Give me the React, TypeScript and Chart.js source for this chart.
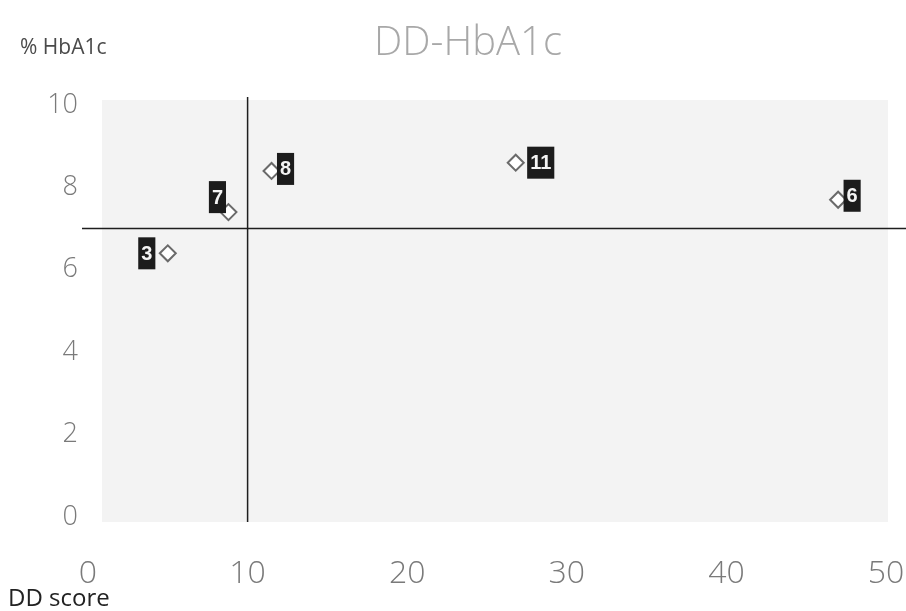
import React, { useEffect, useRef } from "react";
import { Chart, registerables } from "chart.js";
Chart.register(...registerables);

const patientIds = ["3", "7", "8", "11", "6"];
const ddScores = [5.0, 8.8, 11.5, 26.8, 47.0];
const hba1c = [6.4, 7.4, 8.4, 8.6, 7.7];
const xTicks = [0, 10, 20, 30, 40, 50];
const yTicks = [0, 2, 4, 6, 8, 10];
const xCross = 10;
const yCross = 7;
const chartTitle = "DD-HbA1c";
const yAxisTitle = "% HbA1c";
const xAxisTitle = "DD score";

// label box offsets from each marker (dx, dy) in px
const LABEL_OFFSETS: [number, number][] = [
  [-21, 0],
  [-11, -15],
  [14, -2],
  [25, 0],
  [14, -4],
];

const quadrantPlugin = {
  id: "quadrant",
  beforeDatasetsDraw(chart: any) {
    const { ctx, chartArea: a, scales } = chart;
    const x = scales.x;
    const y = scales.y;
    ctx.save();
    ctx.fillStyle = "#f3f3f3";
    ctx.fillRect(a.left + 14, a.top - 5, a.right - a.left - 12, a.bottom - a.top + 10);
    const px = x.getPixelForValue(xCross);
    const py = y.getPixelForValue(yCross);
    ctx.strokeStyle = "#1e1e1e";
    ctx.lineWidth = 1.5;
    ctx.beginPath();
    ctx.moveTo(px, a.top - 8);
    ctx.lineTo(px, a.bottom + 5);
    ctx.stroke();
    ctx.beginPath();
    ctx.moveTo(a.left - 6, py);
    ctx.lineTo(chart.width, py);
    ctx.stroke();
    ctx.restore();
  },
  afterDatasetsDraw(chart: any) {
    const { ctx } = chart;
    const meta = chart.getDatasetMeta(0);
    ctx.save();
    ctx.font = "bold 20px 'Liberation Sans', Arial, sans-serif";
    ctx.textAlign = "center";
    ctx.textBaseline = "middle";
    meta.data.forEach((pt: any, i: number) => {
      const [dx, dy] = LABEL_OFFSETS[i] || [14, 0];
      const cx = pt.x + dx;
      const cy = pt.y + dy;
      const text = patientIds[i];
      const w = ctx.measureText(text).width + 6;
      const h = 32;
      ctx.fillStyle = "#1c1c1c";
      ctx.fillRect(cx - w / 2, cy - h / 2, w, h);
      ctx.fillStyle = "#f4f4f4";
      ctx.fillText(text, cx, cy + 1);
    });
    ctx.restore();
  },
  afterDraw(chart: any) {
    const { ctx } = chart;
    ctx.save();
    ctx.textBaseline = "alphabetic";
    ctx.textAlign = "center";
    ctx.fillStyle = "#a8a8a8";
    ctx.font = "300 40px 'Open Sans', sans-serif";
    ctx.fillText(chartTitle, 468, 55);
    ctx.textAlign = "left";
    ctx.fillStyle = "#4a4a4a";
    ctx.font = "21px 'Open Sans', sans-serif";
    ctx.fillText(yAxisTitle, 20, 54);
    ctx.fillStyle = "#222";
    ctx.font = "24px 'Open Sans', sans-serif";
    ctx.fillText(xAxisTitle, 8, 606);
    ctx.restore();
  },
};

export default function App() {
  const ref = useRef<HTMLCanvasElement | null>(null);
  useEffect(() => {
    document.body.style.margin = "0";
    document.body.style.background = "#ffffff";
    if (!ref.current) return;
    const chart = new Chart(ref.current, {
      type: "scatter",
      data: {
        datasets: [
          {
            label: chartTitle,
            data: ddScores.map((v, i) => ({ x: v, y: hba1c[i] })),
            pointStyle: "rectRot",
            pointRadius: 8,
            pointHoverRadius: 8,
            pointBackgroundColor: "#ffffff",
            pointBorderColor: "#6a6a6a",
            pointBorderWidth: 2,
          },
        ],
      },
      options: {
        animation: false,
        responsive: false,
        maintainAspectRatio: false,
        layout: { padding: { left: 0, right: 0, top: 105, bottom: 0 } },
        plugins: {
          legend: { display: false },
          tooltip: { enabled: false },
          title: { display: false },
        },
        scales: {
          x: {
            type: "linear",
            min: 0,
            max: 50,
            grid: { display: false, drawTicks: false },
            border: { display: false },
            afterBuildTicks: (s: any) => {
              s.ticks = xTicks.map((v) => ({ value: v }));
            },
            afterFit: (s: any) => {
              s.height = 94;
              s.paddingRight = 20;
              s.paddingLeft = 0;
            },
            ticks: {
              color: "#7a7a7a",
              padding: 38,
              maxRotation: 0,
              font: { family: "'Open Sans', sans-serif", size: 32, weight: "300" as any },
            },
          },
          y: {
            type: "linear",
            min: 0,
            max: 10,
            grid: { display: false, drawTicks: false },
            border: { display: false },
            afterBuildTicks: (s: any) => {
              s.ticks = yTicks.map((v) => ({ value: v }));
            },
            afterFit: (s: any) => {
              s.width = 88;
              s.paddingTop = 0;
              s.paddingBottom = 0;
            },
            ticks: {
              color: "#7a7a7a",
              padding: 10,
              font: { family: "'Open Sans', sans-serif", size: 27, weight: "300" as any },
            },
          },
        },
      },
      plugins: [quadrantPlugin],
    });
    return () => chart.destroy();
  }, []);
  return (
    <div style={{ width: 906, height: 611, background: "#fff" }}>
      <canvas ref={ref} width={906} height={611} style={{ display: "block" }} />
    </div>
  );
}
